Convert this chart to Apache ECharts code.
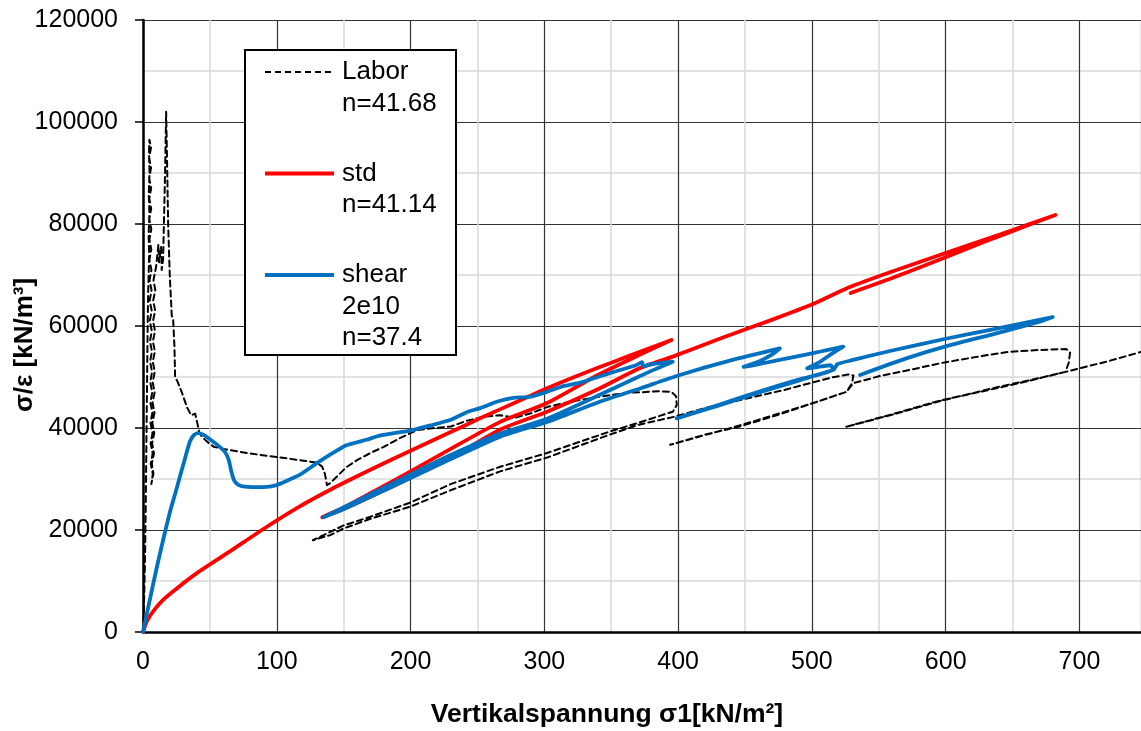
<!DOCTYPE html>
<html>
<head>
<meta charset="utf-8">
<script src="https://cdn.jsdelivr.net/npm/echarts@6/dist/echarts.min.js"></script>
<style>
  html, body { margin: 0; padding: 0; background: #fff; }
  #chart { width: 1141px; height: 731px; }
</style>
</head>
<body>
<div id="chart"></div>
<script>
// Axis ranges and tick spacing
const xRange = [0, 746];
const xStep = 100;
const yRange = [0, 120000];
const yStep = 20000;

// Legend texts
const seriesNames = ['Labor', 'std', 'shear'];
const legendTexts = ['Labor\nn=41.68', 'std\nn=41.14', 'shear\n2e10\nn=37.4'];

// Laboratory oedometer test: [σ1, σ/ε]
const laborPoints = [
  [0,0],[0.8,6000],[1.5,14000],[2,24000],[2.5,36000],[3,48000],[3.4,58000],[3.8,66000],[4.2,70000],
  [4.6,74000],[4.2,78000],[4.8,82000],[4.3,86000],[4.9,90000],[4.5,94000],[4.8,96500],
  [6.0,95000],[4.6,93000],[6.0,91000],[4.6,89000],[6.1,87000],[4.7,85000],[6.1,83000],[4.7,81000],
  [6.2,79000],[4.8,77000],[6.2,75000],[4.8,73000],[6.3,71000],[4.9,69000],[6.4,67000],[5.0,65000],
  [6.5,63000],[5.1,61000],[6.6,59000],[5.2,57000],[6.7,55000],[5.3,53000],[6.8,51000],[5.4,49000],
  [6.9,47000],[5.5,45000],[7.0,43000],[5.6,41000],[7.1,39000],[5.7,37000],[7.2,35000],[5.8,33000],
  [7.3,31000],[6.2,29000],
  [7.8,31000],[6.6,33000],[8.2,35000],[6.8,37000],[8.4,39000],[7.0,41000],[8.6,43000],[7.1,45000],
  [8.7,47000],[7.2,49000],[8.8,51000],[7.3,53000],[8.9,55000],[7.4,57000],[9.0,59000],[7.5,61000],
  [9.1,63000],[7.6,65000],[9.2,67000],[7.8,69000],[9.0,70500],
  [10,72000],[11.5,76000],[12,72500],[13.5,75500],[14,71000],[15,73000],
  [16.5,90000],[17.3,102000],[18,92000],[18.8,80000],[20,70000],[21.5,62000],[22.5,61500],[23.5,56000],
  [24,50000],[26,49000],[29,47000],[33,44000],[36,42500],[39,42800],[40,43000],[41,40500],[42,39200],
  [44,38300],[48,37300],[53,36300],[62,35800],
  [80,35000],[100,34300],[120,33600],[130,33200],[134,32400],[136,31000],[137.5,28800],[140,29200],
  [145,30500],[152,32300],[160,33700],[170,35100],[180,36300],[192,38000],[205,39600],[218,40000],
  [230,40300],[242,41400],[254,42200],[267,42500],[278,42000],[290,42900],[302,44100],[315,44900],
  [327,45500],[340,46100],[351,46500],[362,46900],[372,47000],[385,47200],[395,47100],[398.5,46200],
  [399,44500],[396,43200],
  [370,41000],[350,39400],[302,35100],[267,32400],[230,29000],[200,25400],[170,22600],[150,20900],
  [135,19000],[127,18000],
  [140,19000],[150,20300],[170,22200],[200,24600],[230,27800],[267,31500],[302,34200],[350,38800],
  [370,40600],[397,42200],
  [420,43900],[450,45700],[480,47500],[500,48900],[515,49900],[527,50500],[531,50300],[530,48800],
  [526,47100],
  [500,44800],[470,42400],[446,40500],[420,38600],[394,36700],
  [420,38700],[446,40300],[475,42600],[501,44900],[526,47100],
  [531,48800],[551,50200],[575,51500],[596,52700],[622,53900],[646,54900],[670,55300],[690,55500],
  [693,54800],[692,52800],[689.5,51000],
  [660,49100],[640,47900],[596,45400],[560,42700],[525,40200],
  [560,42600],[596,45300],[640,48100],[665,49500],[689.5,51000],
  [720,53000],[746,54900]
];

// Standard model
const stdPoints = [
  [0,0],[3,2200],[8,4200],[15,6300],[25,8500],[40,11500],[65,15800],[90,20200],[115,24300],
  [140,27900],[170,31800],[202,35800],[230,39200],[252,41900],[280,45200],[302,47800],[330,50800],
  [352,53000],[375,55300],[395,57250],
  [370,54200],[340,50400],[302,44900],[267,41200],[230,35900],[200,31500],[170,27200],[150,24400],[134,22500],
  [150,24100],[170,26500],[200,30300],[230,34100],[267,39700],[302,43200],[340,47600],[372,51800],
  [396,54000],[430,57400],[470,61200],[500,64200],[527,67500],[560,70700],[600,74300],[640,77900],
  [682,81760],
  [660,79600],[630,76600],[600,73500],[560,69400],[529,66470]
];

// Shear model 2e10
const shearPoints = [
  [0,0],[5,6200],[10,12300],[15,18000],[20,23400],[25,28000],[29,31800],[32,34600],[35,37300],
  [38,38600],[41,39000],[45,38700],[50,37800],[56,36600],[61,35400],[64,33800],[66,31500],[68,29800],
  [71,28900],[76,28500],[90,28400],[100,28800],[108,29700],[117,30800],[130,33100],[142,35100],
  [152,36600],[167,37700],[177,38500],[190,39100],[200,39500],[215,40500],[230,41600],[242,43100],
  [252,43900],[265,45200],[277,45900],[289,46100],[302,47100],[314,48200],[327,48900],[340,50000],
  [352,51000],[369,52350],[373,52900],[374,52100],[380,52500],[396,53000],
  [380,51200],[352,47800],[302,41800],[267,38900],[230,34700],[200,30900],[170,27000],[150,24400],[135,22500],
  [150,24100],[170,26500],[200,30200],[230,33900],[267,38300],[302,41200],[340,45000],[372,47800],
  [400,50300],[440,53300],[476,55600],
  [470,54400],[460,53000],[449,52000],[456,52300],[475,53300],[501,54700],[512,55300],[523.5,55950],
  [515,54600],[505,52800],[496.5,51700],[505,52000],[514,52300],[516,51500],
  [490,49500],[460,47100],[430,44500],[399,41900],
  [430,44400],[460,46900],[490,49300],[516,51400],
  [519,52500],[530,53300],[560,55200],[600,57500],[640,59600],[680,61760],
  [672,61000],[640,58700],[600,56000],[570,53600],[536,50400]
];

const FONT = '"Liberation Sans", Arial, sans-serif';
const styles = [
  { color: '#000000', width: 2, type: [6, 4] },
  { color: '#FF0000', width: 3.8, type: 'solid' },
  { color: '#0070C0', width: 3.8, type: 'solid' }
];
const pointSets = [laborPoints, stdPoints, shearPoints];

const chart = echarts.init(document.getElementById('chart'), null, { renderer: 'canvas' });

const series = seriesNames.map((name, i) => ({
  name,
  type: 'line',
  data: pointSets[i],
  showSymbol: false,
  symbol: 'none',
  smooth: i === 0 ? false : 0.2,
  lineStyle: { color: styles[i].color, width: styles[i].width, type: styles[i].type, cap: 'round', join: 'round' },
  itemStyle: { color: styles[i].color },
  z: 2 + i,
  animation: false
}));

// Boxed legend with multi-line entries (absolute pixel layout)
const box = { x: 245, y: 50, w: 211, h: 305 };
const rowY = [72, 173.5, 275];
const legendGraphics = [{
  type: 'rect',
  z: 100,
  shape: { x: box.x, y: box.y, width: box.w, height: box.h },
  style: { fill: '#fff', stroke: '#000', lineWidth: 2 }
}];
seriesNames.forEach((name, i) => {
  legendGraphics.push({
    type: 'line',
    z: 101,
    shape: { x1: box.x + 20, y1: rowY[i], x2: box.x + 89, y2: rowY[i] },
    style: {
      stroke: styles[i].color,
      lineWidth: styles[i].width,
      lineDash: Array.isArray(styles[i].type) ? styles[i].type : null,
      fill: null
    }
  });
  legendGraphics.push({
    type: 'text',
    z: 101,
    x: box.x + 97,
    y: rowY[i] - 15.75,
    style: {
      text: legendTexts[i],
      font: '26px ' + FONT,
      lineHeight: 31.5,
      verticalAlign: 'top',
      align: 'left',
      fill: '#000'
    }
  });
});

chart.setOption({
  animation: false,
  backgroundColor: '#fff',
  grid: { left: 143, right: 0, top: 20, bottom: 99, containLabel: false, outerBoundsMode: 'none' },
  xAxis: {
    type: 'value',
    min: xRange[0], max: xRange[1], interval: xStep,
    splitNumber: 2,
    name: 'Vertikalspannung σ1[kN/m²]',
    nameLocation: 'middle',
    nameGap: 69,
    nameMoveOverlap: false,
    nameTextStyle: { fontFamily: FONT, fontSize: 26.5, fontWeight: 'bold', color: '#000', padding: [0, 70, 0, 0] },
    axisLine: { show: true, onZero: false, lineStyle: { color: '#000', width: 2.5 } },
    axisTick: { show: false },
    axisLabel: { fontFamily: FONT, fontSize: 25, color: '#000', margin: 18, showMaxLabel: false, formatter: v => String(v) },
    splitLine: { show: true, lineStyle: { color: '#333', width: 1.2 } },
    minorTick: { show: false, splitNumber: 2 },
    minorSplitLine: { show: true, lineStyle: { color: '#d9d9d9', width: 1.5 } }
  },
  yAxis: {
    type: 'value',
    min: yRange[0], max: yRange[1], interval: yStep,
    name: 'σ/ε [kN/m³]',
    nameLocation: 'middle',
    nameGap: 105,
    nameMoveOverlap: false,
    nameTextStyle: { fontFamily: FONT, fontSize: 26, fontWeight: 'bold', color: '#000', padding: [0, 38, 0, 0] },
    axisLine: { show: true, onZero: false, lineStyle: { color: '#000', width: 2.5 } },
    axisTick: { show: true, inside: false, length: 8, lineStyle: { color: '#000', width: 1.5 } },
    axisLabel: { fontFamily: FONT, fontSize: 25, color: '#000', margin: 25, formatter: v => String(v) },
    splitLine: { show: true, lineStyle: { color: '#333', width: 1.2 } },
    minorTick: { show: false, splitNumber: 2 },
    minorSplitLine: { show: true, lineStyle: { color: '#d9d9d9', width: 1.5 } }
  },
  graphic: legendGraphics,
  series
});
</script>
</body>
</html>
